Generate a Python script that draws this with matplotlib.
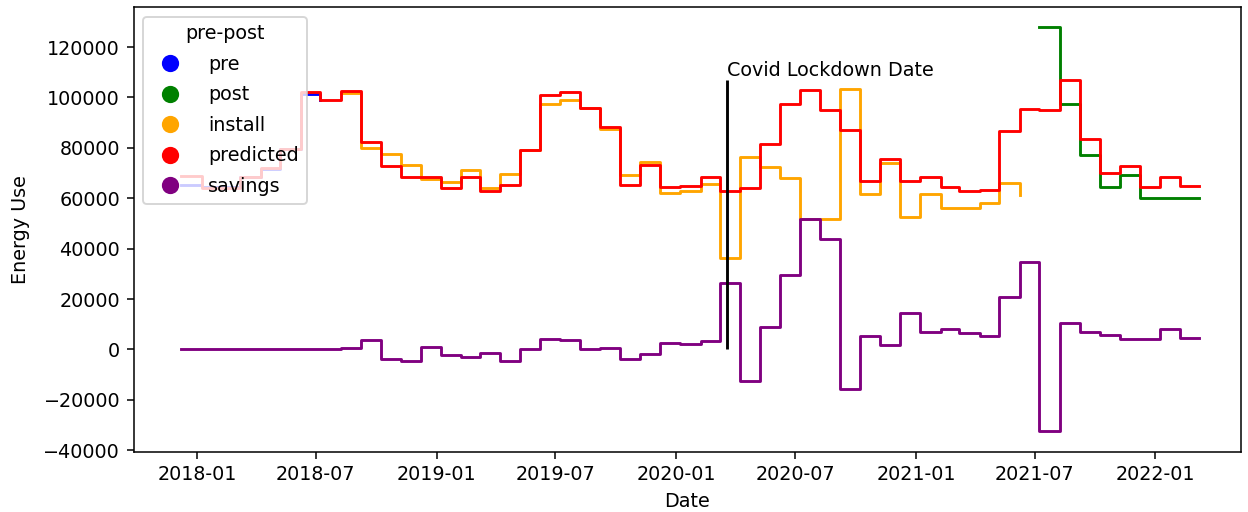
import pandas as pd
import matplotlib.pyplot as plt
import matplotlib.dates as mdates
from matplotlib.lines import Line2D

# fechas de lectura mensuales
dates = pd.date_range("2017-12-01", "2022-03-01", freq="MS") + pd.Timedelta(days=7)

pre_dates = dates[:8]        # 2017-12 .. 2018-07
install_dates = dates[8:43]  # 2018-08 .. 2021-06
post_dates = dates[43:]      # 2021-07 .. 2022-03

pre = [65300, 64500, 64500, 68400, 71500, 79500, 101200, 98800]

install = [101700, 79800, 77400, 73000, 67600, 66300, 71400, 64100, 69800,
           79200, 97200, 99000, 95800, 87500, 69100, 74200, 62000, 63000,
           65800, 36300, 76300, 72300, 68100, 51600, 51600, 103200, 61500,
           74000, 52400, 61700, 56300, 56300, 58200, 65900, 61400]

post = [127800, 97300, 77300, 64300, 69300, 60000, 60000, 60000, 60000]

predicted = [68900, 64000, 64000, 68400, 72000, 79500, 102000, 98800,
             102400, 82500, 72600, 68600, 68600, 63900, 68600, 62700, 65300,
             79200, 101000, 102000, 95800, 88200, 65300, 73000, 64300, 64700,
             68600, 62700, 64000, 81600, 97300, 102800, 95100, 87200, 66700,
             75500, 66700, 68600, 64300, 62700, 63400, 86500, 95400, 95000,
             107000, 83600, 70000, 72600, 64400, 68600, 65000, 65000]

savings = [0, 0, 0, 0, 0, 0, 0, 0,
           700, 3700, -3700, -4400, 1000, -2100, -2800, -1500, -4400, 0,
           4100, 3600, 0, 700, -3700, -1600, 2400, 2000, 3200, 26300, -12400,
           9100, 29400, 51600, 44000, -15600, 5200, 1800, 14400, 7100, 8100,
           6500, 5200, 20800, 34900, -32500, 10400, 7100, 5800, 4100, 4100,
           8100, 4500, 4500]

covid_date = pd.Timestamp("2020-03-19")

labels = ["pre", "post", "install", "predicted", "savings"]
colors = ["blue", "green", "orange", "red", "purple"]

fig, ax = plt.subplots(figsize=(1248 / 138, 512 / 138), dpi=138)
fig.subplots_adjust(left=0.107, right=0.994, top=0.986, bottom=0.118)

series = [(pre_dates, pre), (post_dates, post), (install_dates, install),
          (dates, predicted), (dates, savings)]
for (x, y), c in zip(series, colors):
    ax.plot(x, y, drawstyle="steps-post", color=c, linewidth=1.5)

# línea de covid
top = max(predicted)
ax.vlines(covid_date, 0, top, color="black")
ax.text(covid_date, top, "Covid Lockdown Date", ha="left", va="bottom")

ax.set_xlim(pd.Timestamp("2017-09-26"), pd.Timestamp("2022-05-11"))
ax.xaxis.set_major_locator(mdates.MonthLocator(bymonth=[1, 7]))
ax.xaxis.set_major_formatter(mdates.DateFormatter("%Y-%m"))

ax.set_xlabel("Date")
ax.set_ylabel("Energy Use", labelpad=7)

handles = [Line2D([], [], marker="o", linestyle="none", color=c, markersize=8)
           for c in colors]
ax.legend(handles, labels, title="pre-post", loc="upper left",
          labelspacing=0.6, handletextpad=1.0)

plt.savefig("out.png")
